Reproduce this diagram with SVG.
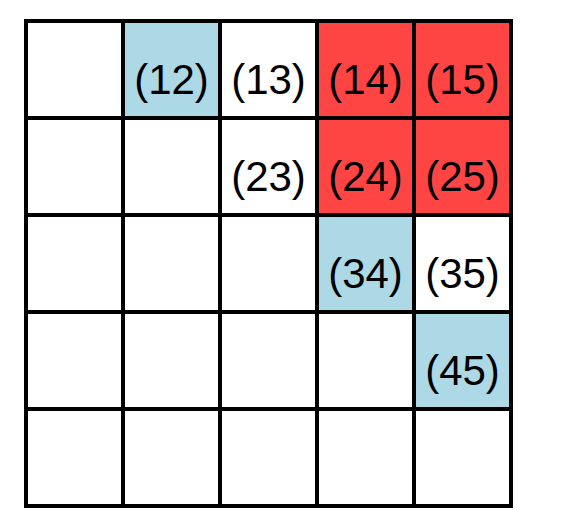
<svg xmlns="http://www.w3.org/2000/svg" width="564" height="510" viewBox="0 0 564 510">
<style>
.blue{fill:#add8e6}
.red{fill:#ff4444}
.white{fill:#ffffff}
.grid{stroke:#000;stroke-width:4;fill:none;stroke-linecap:square}
.lbl{font-family:"Liberation Sans",Arial,sans-serif;font-size:42px;fill:#000;text-anchor:middle}
</style>
<rect x="0" y="0" width="564" height="510" fill="#fff"/>
<g id="c12"><rect class="blue" x="123" y="21" width="97" height="97"/><text class="lbl" x="171.5" y="94">(12)</text></g>
<g id="c13"><rect class="white" x="220" y="21" width="97" height="97"/><text class="lbl" x="268.5" y="94">(13)</text></g>
<g id="c14"><rect class="red" x="317" y="21" width="97" height="97"/><text class="lbl" x="365.5" y="94">(14)</text></g>
<g id="c15"><rect class="red" x="414" y="21" width="97" height="97"/><text class="lbl" x="462.5" y="94">(15)</text></g>
<g id="c23"><rect class="white" x="220" y="118" width="97" height="97"/><text class="lbl" x="268.5" y="191">(23)</text></g>
<g id="c24"><rect class="red" x="317" y="118" width="97" height="97"/><text class="lbl" x="365.5" y="191">(24)</text></g>
<g id="c25"><rect class="red" x="414" y="118" width="97" height="97"/><text class="lbl" x="462.5" y="191">(25)</text></g>
<g id="c34"><rect class="blue" x="317" y="215" width="97" height="97"/><text class="lbl" x="365.5" y="288">(34)</text></g>
<g id="c35"><rect class="white" x="414" y="215" width="97" height="97"/><text class="lbl" x="462.5" y="288">(35)</text></g>
<g id="c45"><rect class="blue" x="414" y="312" width="97" height="97"/><text class="lbl" x="462.5" y="385">(45)</text></g>
<g id="connectors" class="grid">
<rect x="26" y="21" width="485" height="485"/>
<path d="M123 21V506M220 21V506M317 21V506M414 21V506M26 118H511M26 215H511M26 312H511M26 409H511"/>
</g>
</svg>
